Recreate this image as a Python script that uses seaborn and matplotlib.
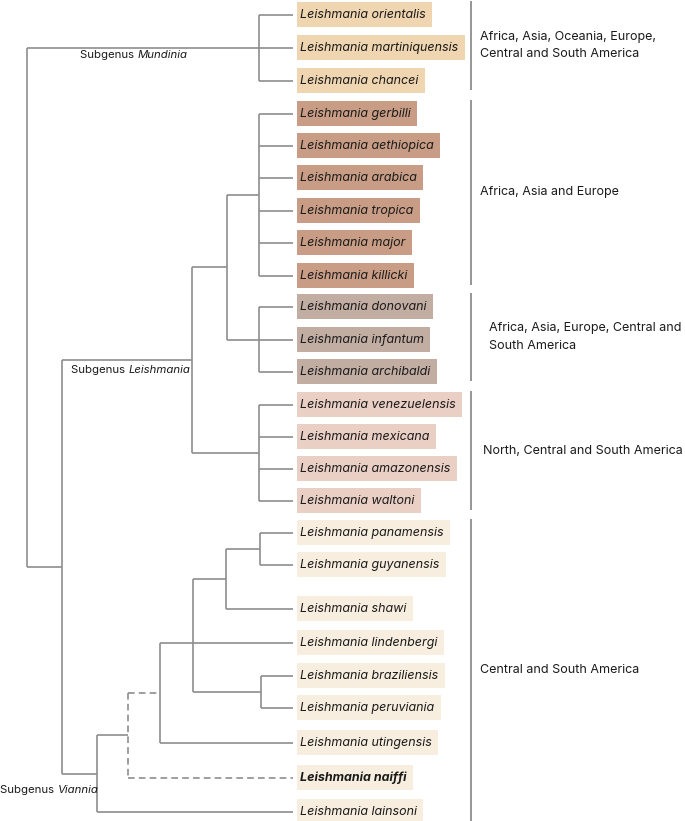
import matplotlib.pyplot as plt
import seaborn as sns
from matplotlib.offsetbox import AnnotationBbox, HPacker, TextArea

sns.set_theme(style="white")
plt.rcParams["font.family"] = ["Inter", "DejaVu Sans"]

# leaves, top to bottom, with their row positions (px from top)
species = [
    "Leishmania orientalis", "Leishmania martiniquensis", "Leishmania chancei",
    "Leishmania gerbilli", "Leishmania aethiopica", "Leishmania arabica",
    "Leishmania tropica", "Leishmania major", "Leishmania killicki",
    "Leishmania donovani", "Leishmania infantum", "Leishmania archibaldi",
    "Leishmania venezuelensis", "Leishmania mexicana", "Leishmania amazonensis",
    "Leishmania waltoni", "Leishmania panamensis", "Leishmania guyanensis",
    "Leishmania shawi", "Leishmania lindenbergi", "Leishmania braziliensis",
    "Leishmania peruviania", "Leishmania utingensis", "Leishmania naiffi",
    "Leishmania lainsoni",
]
leaf_y = [15, 48, 81, 114, 146, 178, 211, 243, 276, 307, 340, 372,
          405, 437, 469, 501, 533, 565, 609, 643, 676, 708, 743, 778, 812]
highlight = "Leishmania naiffi"

# internal nodes: name, depth (x), children
node_names = ["root", "mund", "lv", "leish", "n227", "aae", "don", "amer",
              "vian", "n128", "n160", "n193", "n226", "n260", "n261"]
node_x = [27, 259, 62, 192, 227, 259, 259, 259, 97, 128, 160, 193, 226, 260, 261]
node_children = [
    ["mund", "lv"],
    species[0:3],
    ["leish", "vian"],
    ["n227", "amer"],
    ["aae", "don"],
    species[3:9],
    species[9:12],
    species[12:16],
    ["n128", "Leishmania lainsoni"],
    ["n160", "Leishmania naiffi"],
    ["n193", "Leishmania utingensis"],
    ["n226", "Leishmania lindenbergi", "n261"],
    ["n260", "Leishmania shawi"],
    ["Leishmania panamensis", "Leishmania guyanensis"],
    ["Leishmania braziliensis", "Leishmania peruviania"],
]
dashed_nodes = ["n128"]

subgenera = ["Mundinia", "Leishmania", "Viannia"]
subgenus_pos = [(80, 55), (71, 370), (0, 790)]

regions = [
    "Africa, Asia, Oceania, Europe,\nCentral and South America",
    "Africa, Asia and Europe",
    "Africa, Asia, Europe, Central and\nSouth America",
    "North, Central and South America",
    "Central and South America",
]
region_span = [(0, 2), (3, 8), (9, 11), (12, 15), (16, 24)]
region_colors = ["#EFD5B0", "#C99D85", "#C2ADA3", "#EACFC5", "#F7EEDF"]
region_label_x = [480, 480, 489, 483, 480]

line_col = "#8E8E8E"
text_col = "#1b1b1b"
leaf_end = 293
box_left = 297

fig = plt.figure(figsize=(6.85, 8.21), dpi=100)
ax = fig.add_axes([0, 0, 1, 1])
ax.set_xlim(0, 685)
ax.set_ylim(821, 0)
ax.axis("off")

pos = {s: (leaf_end, y) for s, y in zip(species, leaf_y)}
info = dict(zip(node_names, zip(node_x, node_children)))


def place(name):
    if name in pos:
        return pos[name]
    x, kids = info[name]
    ys = [place(k)[1] for k in kids]
    y = ys[len(ys) // 2] if len(ys) % 2 else (ys[0] + ys[-1]) / 2
    pos[name] = (x, y)
    return pos[name]


place("root")

for name, x, kids in zip(node_names, node_x, node_children):
    ls = (0, (4, 2.5)) if name in dashed_nodes else "-"
    ys = [pos[k][1] for k in kids]
    ax.vlines(x, min(ys), max(ys), color=line_col, lw=1.2, linestyle=ls)
    for k in kids:
        ax.hlines(pos[k][1], x, pos[k][0], color=line_col, lw=1.2, linestyle=ls)

# species names, then boxes sized to fit them
labels = []
for i, sp in enumerate(species):
    t = ax.text(300.5, leaf_y[i], sp, fontsize=9, style="italic",
                fontweight="bold" if sp == highlight else "normal",
                color=text_col, va="center", ha="left", zorder=3)
    labels.append(t)

renderer = fig.canvas.get_renderer()
inv = ax.transData.inverted()
for (first, last), col in zip(region_span, region_colors):
    for i in range(first, last + 1):
        bb = labels[i].get_window_extent(renderer)
        right = inv.transform((bb.x1, bb.y0))[0] + 6
        ax.barh(leaf_y[i], right - box_left, left=box_left, height=25,
                color=col, edgecolor="none", zorder=2)

# region bars and labels
for label, (first, last), lx in zip(regions, region_span, region_label_x):
    top = max(leaf_y[first] - 14, 0)
    bot = min(leaf_y[last] + 9, 821)
    ax.vlines(471, top, bot, color=line_col, lw=1.3)
    ax.text(lx, (top + bot) / 2, label, fontsize=9, color=text_col,
            va="center", ha="left", linespacing=1.65)

# subgenus labels
for sg, (sx, sy) in zip(subgenera, subgenus_pos):
    box = HPacker(children=[
        TextArea("Subgenus ", textprops=dict(fontsize=8.2, color=text_col)),
        TextArea(sg, textprops=dict(fontsize=8.2, color=text_col, style="italic")),
    ], align="baseline", pad=0, sep=0)
    ax.add_artist(AnnotationBbox(box, (sx, sy), box_alignment=(0, 0.5),
                                 frameon=False, pad=0))

fig.savefig("out.png", dpi=100)
